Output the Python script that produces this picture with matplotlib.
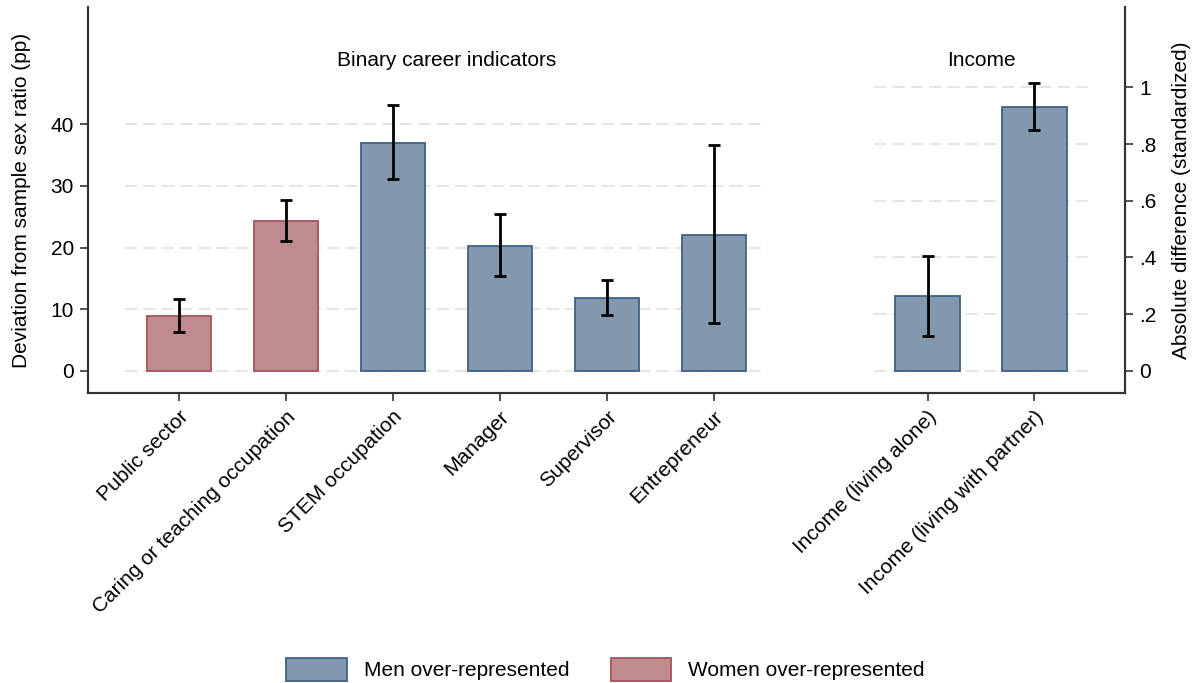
import matplotlib
matplotlib.use("Agg")
import matplotlib.pyplot as plt
from matplotlib.patches import Patch
from matplotlib.ticker import FuncFormatter

plt.rcParams['font.family'] = ['Liberation Sans', 'DejaVu Sans']

# Binary career indicators (percentage points, left axis)
career_labels = ["Public sector", "Caring or teaching occupation", "STEM occupation",
                 "Manager", "Supervisor", "Entrepreneur"]
career_values = [8.9, 24.3, 37.0, 20.3, 11.8, 22.1]
career_lo = [6.4, 21.0, 31.2, 15.4, 9.0, 7.8]
career_hi = [11.6, 27.7, 43.1, 25.5, 14.8, 36.6]
career_group = ["women", "women", "men", "men", "men", "men"]

# Income (standardized absolute difference, right axis)
income_labels = ["Income (living alone)", "Income (living with partner)"]
income_values = [0.263, 0.931]
income_lo = [0.123, 0.851]
income_hi = [0.406, 1.016]
income_group = ["men", "men"]

left_ticks = [0, 10, 20, 30, 40]
right_ticks = [0, 0.2, 0.4, 0.6, 0.8, 1.0]

fill = {"men": "#8198ae", "women": "#c08b8e"}
edge = {"men": "#3e6187", "women": "#a5525a"}
spine_col = "#333333"
grid_col = "#dedede"
fs = 15

career_x = list(range(len(career_labels)))
income_x = [len(career_labels) + 1 + i for i in range(len(income_labels))]

fig = plt.figure(figsize=(11.94, 6.83), dpi=100)
ax = fig.add_axes([0.0737, 0.4246, 0.8688, 0.5652])
ax2 = ax.twinx()

ax.set_xlim(-0.85, 8.85)
ax.set_ylim(-3.57, 59.03)
ax2.set_ylim(-0.0776, 1.283)

# dashed reference lines confined to each group
for t in left_ticks:
    ax.plot([-0.5, 5.5], [t, t], color=grid_col, lw=1.1, ls=(0, (8, 4)), zorder=0)
for t in right_ticks:
    ax2.plot([6.5, 8.5], [t, t], color=grid_col, lw=1.1, ls=(0, (8, 4)), zorder=0)

bw = 0.6
for x, v, lo, hi, g in zip(career_x, career_values, career_lo, career_hi, career_group):
    ax.bar(x, v, width=bw, color=fill[g], edgecolor=edge[g], linewidth=1.3, zorder=2)
    ax.errorbar(x, v, yerr=[[v - lo], [hi - v]], fmt="none", ecolor="black",
                elinewidth=2.0, capsize=4, capthick=2.0, zorder=3)
for x, v, lo, hi, g in zip(income_x, income_values, income_lo, income_hi, income_group):
    ax2.bar(x, v, width=bw, color=fill[g], edgecolor=edge[g], linewidth=1.3, zorder=2)
    ax2.errorbar(x, v, yerr=[[v - lo], [hi - v]], fmt="none", ecolor="black",
                 elinewidth=2.0, capsize=4, capthick=2.0, zorder=3)

ax.text(2.5, 50.4, "Binary career indicators", ha="center", va="center", fontsize=fs)
ax.text(7.5, 50.4, "Income", ha="center", va="center", fontsize=fs)

ax.set_xticks(career_x + income_x)
ax.set_xticklabels(career_labels + income_labels, rotation=45, ha="right",
                   rotation_mode="anchor", fontsize=fs)
ax.set_yticks(left_ticks)
ax.tick_params(axis="y", labelsize=fs, length=6, width=1.2, color=spine_col, pad=4)
ax.tick_params(axis="x", length=6, width=1.2, color=spine_col, pad=4)
ax2.set_yticks(right_ticks)
ax2.yaxis.set_major_formatter(FuncFormatter(
    lambda v, p: "0" if v == 0 else ("1" if v == 1 else ("%.1f" % v).lstrip("0"))))
ax2.tick_params(axis="y", labelsize=fs, length=6, width=1.2, color=spine_col, pad=4)

ax.set_ylabel("Deviation from sample sex ratio (pp)", fontsize=fs, labelpad=14)
ax2.set_ylabel("Absolute difference (standardized)", fontsize=fs, labelpad=11)

for a in (ax, ax2):
    a.spines["top"].set_visible(False)
    for s in ("left", "right", "bottom"):
        a.spines[s].set_color(spine_col)
        a.spines[s].set_linewidth(1.5)

handles = [Patch(facecolor=fill["men"], edgecolor=edge["men"], linewidth=1.3, label="Men over-represented"),
           Patch(facecolor=fill["women"], edgecolor=edge["women"], linewidth=1.3, label="Women over-represented")]
fig.legend(handles=handles, loc="center", bbox_to_anchor=(0.507, 0.02), ncol=2,
           frameon=False, fontsize=fs, handlelength=2.9, handleheight=1.35,
           columnspacing=2.0, handletextpad=0.8)

fig.savefig("out.png", dpi=100)
